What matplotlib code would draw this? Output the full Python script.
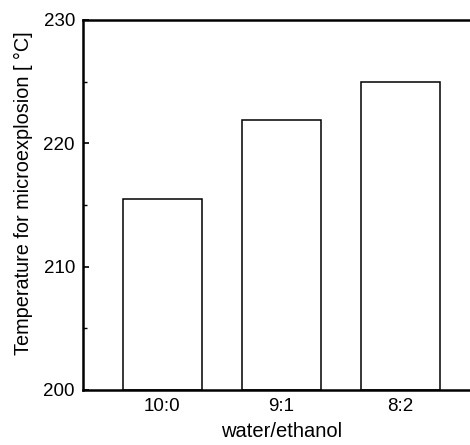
import matplotlib
matplotlib.use("Agg")
import matplotlib.pyplot as plt
from matplotlib.ticker import MultipleLocator

categories = ["10:0", "9:1", "8:2"]
temps = [215.5, 221.9, 225.0]

plt.rcParams['font.family'] = ['Liberation Sans', 'DejaVu Sans']

fig = plt.figure(figsize=(4.7, 4.45), dpi=100)
ax = fig.add_axes([0.1772, 0.1236, 0.8434, 0.8315])

x = list(range(len(categories)))
ax.bar(x, [t - 200 for t in temps], bottom=200, width=0.667,
       facecolor='white', edgecolor='black', linewidth=1.1)

ax.set_xlim(-0.663, 2.663)
ax.set_ylim(200, 230)
ax.set_xticks(x)
ax.set_xticklabels(categories)
ax.yaxis.set_major_locator(MultipleLocator(10))
ax.yaxis.set_minor_locator(MultipleLocator(5))
ax.tick_params(axis='y', which='major', direction='in', length=4, width=1.2, labelsize=13.5, pad=6)
ax.tick_params(axis='y', which='minor', direction='in', length=3, width=1.0)
ax.tick_params(axis='x', which='both', length=0, labelsize=13.5, pad=6)
for s in ax.spines.values():
    s.set_linewidth(1.8)

ax.set_xlabel("water/ethanol", fontsize=14.5, labelpad=5)
ax.set_ylabel("Temperature for microexplosion [ °C]", fontsize=14.3,
              va='center', ha='center')
ax.yaxis.set_label_coords(-0.152, 0.532)

fig.savefig("out.png", dpi=100)
